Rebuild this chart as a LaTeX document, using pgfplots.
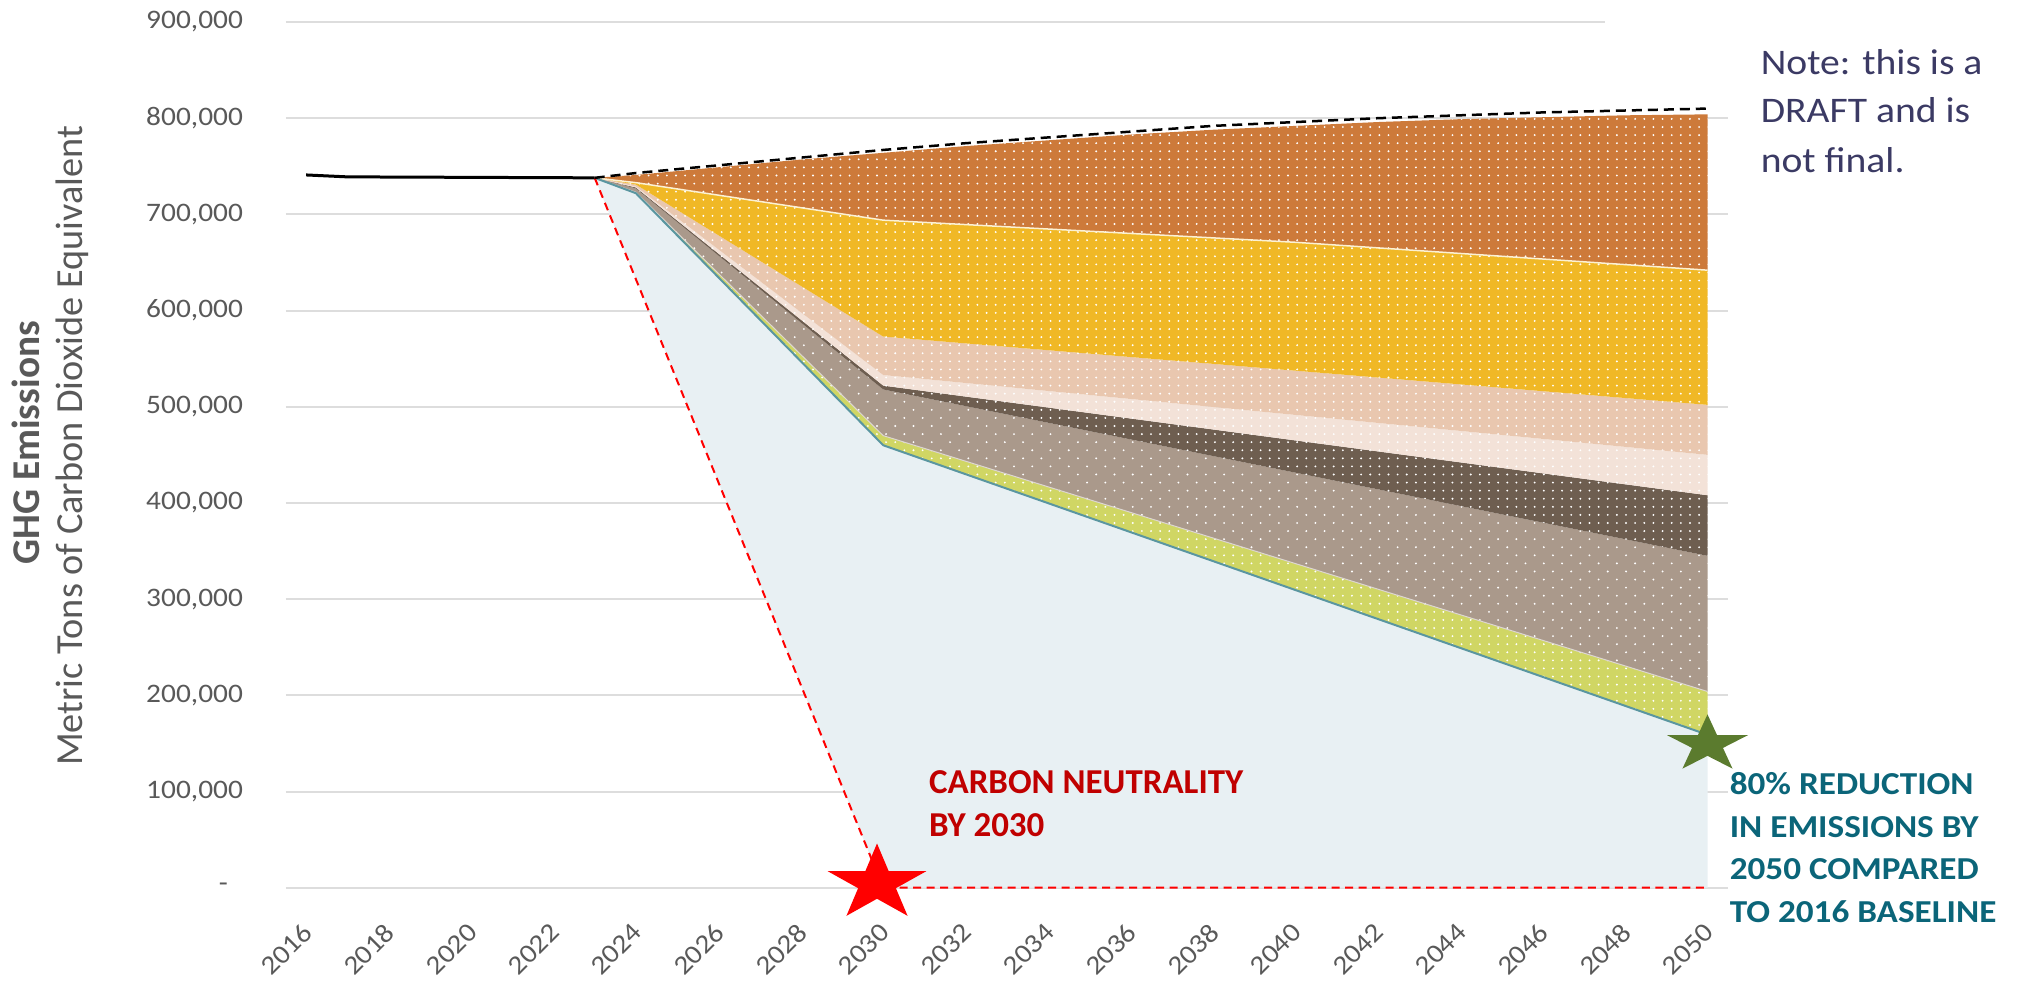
\documentclass[border=0pt]{standalone}
\usepackage{pgfplots}
\pgfplotsset{compat=1.18}
\usepgfplotslibrary{fillbetween}
\usetikzlibrary{patterns}
\usepackage{fontspec}
\setmainfont{Carlito}
\newfontfamily\tickfont[FakeStretch=1.1]{Carlito}
\newfontfamily\widefont[FakeStretch=1.1]{Carlito}

\definecolor{cOrange}{HTML}{CD7A3A}
\definecolor{cYellow}{HTML}{F0B826}
\definecolor{cLPeach}{HTML}{E9C7AF}
\definecolor{cVLPeach}{HTML}{F3E2D8}
\definecolor{cDark}{HTML}{6E5E50}
\definecolor{cTaupe}{HTML}{AA998B}
\definecolor{cGreen}{HTML}{D0D664}
\definecolor{cBlue}{HTML}{E8F0F3}
\definecolor{cTeal}{HTML}{5A96A0}
\definecolor{cGrid}{HTML}{DDDDDD}
\definecolor{cTick}{HTML}{595959}
\definecolor{cRedTxt}{HTML}{C00000}
\definecolor{cTealTxt}{HTML}{0B6579}
\definecolor{cNote}{HTML}{3B3A64}
\definecolor{cStarG}{HTML}{5B7B2E}

\pgfdeclarepatternformonly{densedots}{\pgfqpoint{-0.5pt}{-0.5pt}}{\pgfqpoint{0.5pt}{0.5pt}}{\pgfqpoint{2.6pt}{2.3pt}}{%
  \pgfpathcircle{\pgfqpoint{0pt}{0pt}}{0.3pt}%
  \pgfusepath{fill}%
}
\pgfdeclarepatternformonly{sparsedots}{\pgfqpoint{-0.5pt}{-0.5pt}}{\pgfqpoint{3.2pt}{2.9pt}}{\pgfqpoint{5.2pt}{4.6pt}}{%
  \pgfpathcircle{\pgfqpoint{0pt}{0pt}}{0.3pt}%
  \pgfpathcircle{\pgfqpoint{2.6pt}{2.3pt}}{0.3pt}%
  \pgfusepath{fill}%
}

% five-point star, stretched horizontally by 1.3
\pgfdeclareplotmark{rstar}{%
  \pgfpathmoveto{\pgfpoint{0pt}{\pgfplotmarksize}}%
  \pgfpathlineto{\pgfpoint{-0.2918\pgfplotmarksize}{0.309\pgfplotmarksize}}%
  \pgfpathlineto{\pgfpoint{-1.2363\pgfplotmarksize}{0.309\pgfplotmarksize}}%
  \pgfpathlineto{\pgfpoint{-0.4723\pgfplotmarksize}{-0.118\pgfplotmarksize}}%
  \pgfpathlineto{\pgfpoint{-0.7644\pgfplotmarksize}{-0.809\pgfplotmarksize}}%
  \pgfpathlineto{\pgfpoint{0pt}{-0.382\pgfplotmarksize}}%
  \pgfpathlineto{\pgfpoint{0.7644\pgfplotmarksize}{-0.809\pgfplotmarksize}}%
  \pgfpathlineto{\pgfpoint{0.4723\pgfplotmarksize}{-0.118\pgfplotmarksize}}%
  \pgfpathlineto{\pgfpoint{1.2363\pgfplotmarksize}{0.309\pgfplotmarksize}}%
  \pgfpathlineto{\pgfpoint{0.2918\pgfplotmarksize}{0.309\pgfplotmarksize}}%
  \pgfpathclose
  \pgfusepathqfill
}
% stretched by 1.42
\pgfdeclareplotmark{gstar}{%
  \pgfpathmoveto{\pgfpoint{0pt}{\pgfplotmarksize}}%
  \pgfpathlineto{\pgfpoint{-0.3188\pgfplotmarksize}{0.309\pgfplotmarksize}}%
  \pgfpathlineto{\pgfpoint{-1.3504\pgfplotmarksize}{0.309\pgfplotmarksize}}%
  \pgfpathlineto{\pgfpoint{-0.5159\pgfplotmarksize}{-0.118\pgfplotmarksize}}%
  \pgfpathlineto{\pgfpoint{-0.835\pgfplotmarksize}{-0.809\pgfplotmarksize}}%
  \pgfpathlineto{\pgfpoint{0pt}{-0.382\pgfplotmarksize}}%
  \pgfpathlineto{\pgfpoint{0.835\pgfplotmarksize}{-0.809\pgfplotmarksize}}%
  \pgfpathlineto{\pgfpoint{0.5159\pgfplotmarksize}{-0.118\pgfplotmarksize}}%
  \pgfpathlineto{\pgfpoint{1.3504\pgfplotmarksize}{0.309\pgfplotmarksize}}%
  \pgfpathlineto{\pgfpoint{0.3188\pgfplotmarksize}{0.309\pgfplotmarksize}}%
  \pgfpathclose
  \pgfusepathqfill
}

% boundaries of the stacked areas (cumulative, metric tons CO2e)
\pgfplotstableread{
x y
2023 738000
2030 0
2050 0
}\tRed
\pgfplotstableread{
x y
2023 738000
2024 722000
2030 460000
2050 159000
}\tTeal
\pgfplotstableread{
x y
2023 738000
2024 723000
2030 470000
2050 204000
}\tGreen
\pgfplotstableread{
x y
2023 738000
2024 727000
2030 518000
2050 345000
}\tTaupe
\pgfplotstableread{
x y
2023 738000
2024 728000
2030 522000
2050 408000
}\tDark
\pgfplotstableread{
x y
2023 738000
2024 729000
2030 533000
2050 450000
}\tVLPeach
\pgfplotstableread{
x y
2023 738000
2024 731000
2030 573000
2050 502000
}\tLPeach
\pgfplotstableread{
x y
2023 738000
2024 733000
2030 694000
2040 671000
2050 642000
}\tYellow
\pgfplotstableread{
x y
2023 738000
2024 741000
2026 749000
2028 757000
2030 764000
2032 771000
2034 777000
2036 783000
2038 788000
2040 792000
2042 796000
2044 799000
2046 801000
2048 803000
2050 804000
}\tOrange
\pgfplotstableread{
x y
2023 738000
2024 743000
2026 751000
2028 759000
2030 767000
2032 774000
2034 780000
2036 786000
2038 792000
2040 796000
2042 800000
2044 803000
2046 806000
2048 808000
2050 810000
}\tBAU
\pgfplotstableread{
x y
2016 741000
2017 739000
2023 738000
}\tHist

\begin{document}
\begin{tikzpicture}[x=0.1mm,y=0.1mm]
\path (0,0) rectangle (2017,992);
\begin{axis}[
  at={(28.5mm,10.4mm)}, anchor=south west,
  scale only axis, width=144.3mm, height=86.6mm,
  xmin=2015.5, xmax=2050.5, ymin=0, ymax=900000,
  clip=false,
  axis line style={draw=none}, tick style={draw=none},
  xtick={2016,2018,...,2050},
  ytick={0,100000,...,900000},
  yticklabels={{-\hspace*{1.5mm}},{100,000},{200,000},{300,000},{400,000},{500,000},{600,000},{700,000},{800,000},{900,000}},
  ymajorgrids, grid style={cGrid, line width=0.2mm},
  /pgf/number format/assume math mode=true,
  /pgf/number format/1000 sep={},
  tick label style={font=\tickfont\fontsize{7.6}{9}\selectfont, text=cTick, inner sep=0pt},
  yticklabel style={anchor=east, xshift=-4.2mm},
  xticklabel style={xshift=0.2mm, yshift=-4.0mm, rotate=45, anchor=east},
  scaled y ticks=false,
]
\addplot[draw=none, name path=R] table {\tRed};
\addplot[draw=none, name path=T] table {\tTeal};
\addplot[draw=none, name path=G] table {\tGreen};
\addplot[draw=none, name path=P] table {\tTaupe};
\addplot[draw=none, name path=D] table {\tDark};
\addplot[draw=none, name path=V] table {\tVLPeach};
\addplot[draw=none, name path=L] table {\tLPeach};
\addplot[draw=none, name path=Y] table {\tYellow};
\addplot[draw=none, name path=O] table {\tOrange};

\addplot[fill=cBlue, draw=none] fill between[of=R and T];
\addplot[fill=cGreen, draw=none, postaction={pattern=densedots, pattern color=white}] fill between[of=T and G];
\addplot[fill=cTaupe, draw=none, postaction={pattern=sparsedots, pattern color=white}] fill between[of=G and P];
\addplot[fill=cDark, draw=none, postaction={pattern=densedots, pattern color=white}] fill between[of=P and D];
\addplot[fill=cVLPeach, draw=none, postaction={pattern=densedots, pattern color=white}] fill between[of=D and V];
\addplot[fill=cLPeach, draw=none, postaction={pattern=densedots, pattern color=white}] fill between[of=V and L];
\addplot[fill=cYellow, draw=none, postaction={pattern=densedots, pattern color=white}] fill between[of=L and Y];
\addplot[fill=cOrange, draw=none, postaction={pattern=densedots, pattern color=white}] fill between[of=Y and O];

\addplot[color=white!80!cYellow, line width=0.15mm] table {\tYellow};
\addplot[color=white!60!cTaupe, line width=0.1mm] table {\tGreen};
\addplot[color=cTeal, line width=0.2mm] table {\tTeal};
\addplot[color=red, line width=0.2mm, dash pattern=on 0.8mm off 0.55mm] table {\tRed};
\addplot[color=black, line width=0.3mm] table {\tHist};
\addplot[color=black, line width=0.25mm, dash pattern=on 1mm off 0.6mm] table {\tBAU};

\addplot[only marks, mark=rstar, mark size=4mm, color=red] coordinates {(2029.85,4400)};
\addplot[only marks, mark=gstar, mark size=3mm, color=cStarG] coordinates {(2050,149000)};
\end{axis}

\fill[white] (1605,955) rectangle (1740,990);

\node[rotate=90, font=\bfseries\fontsize{11.2}{13}\selectfont, text=cTick] at (25,549) {GHG Emissions};
\node[rotate=90, font=\fontsize{10.9}{13}\selectfont, text=cTick] at (72,546) {Metric Tons of Carbon Dioxide Equivalent};

\begin{scope}[every node/.style={anchor=base west, inner sep=0pt}]
\node[font=\widefont\fontsize{10.25}{12}\selectfont, text=cNote] at (1760,917) {Note: this is a};
\node[font=\widefont\fontsize{10.25}{12}\selectfont, text=cNote] at (1760,869) {DRAFT and is};
\node[font=\widefont\fontsize{10.25}{12}\selectfont, text=cNote] at (1760,819) {not final.};

\node[font=\bfseries\fontsize{9.95}{11}\selectfont, text=cRedTxt] at (928,198) {CARBON NEUTRALITY};
\node[font=\bfseries\fontsize{9.95}{11}\selectfont, text=cRedTxt] at (928,155) {BY 2030};

\node[font=\widefont\bfseries\fontsize{9.1}{11}\selectfont, text=cTealTxt] at (1729,197) {80\% REDUCTION};
\node[font=\widefont\bfseries\fontsize{9.1}{11}\selectfont, text=cTealTxt] at (1729,154) {IN EMISSIONS BY};
\node[font=\widefont\bfseries\fontsize{9.1}{11}\selectfont, text=cTealTxt] at (1729,112) {2050 COMPARED};
\node[font=\widefont\bfseries\fontsize{9.1}{11}\selectfont, text=cTealTxt] at (1729,69) {TO 2016 BASELINE};
\end{scope}
\end{tikzpicture}
\end{document}
